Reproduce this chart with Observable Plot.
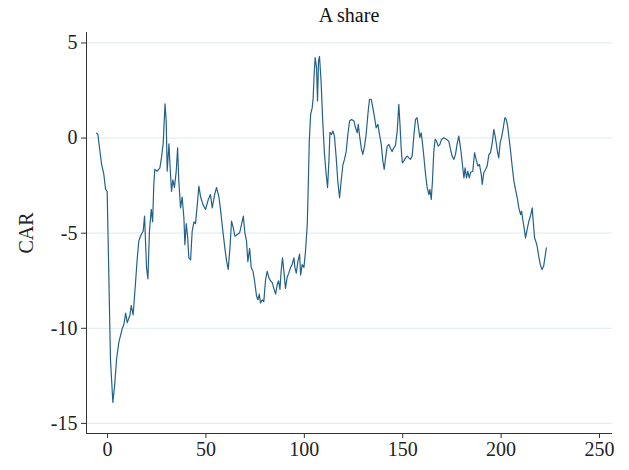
<!DOCTYPE html>
<html><head><meta charset="utf-8">
<script src="https://cdn.jsdelivr.net/npm/d3@7"></script>
<script src="https://cdn.jsdelivr.net/npm/@observablehq/plot@0.6"></script>
<style>
body{margin:0;background:#fff;font-family:"Liberation Serif",serif;}
#title{height:30px;width:629px;box-sizing:border-box;padding-left:69px;text-align:center;font-size:20px;line-height:30px;color:#111;}
</style></head><body>
<div id="title">A share</div>
<div id="chart"></div>
<script>
const day = [-5.6,-4.9,-3.9,-3.0,-1.9,-1.0,-0.2,0.7,1.5,2.7,3.6,4.6,5.8,7.5,8.3,9.2,10.0,11.4,12.0,13.0,13.9,15.1,15.9,17.1,18.1,18.8,19.8,20.5,21.3,22.2,22.9,23.5,24.0,25.2,26.6,27.4,28.3,29.2,29.8,30.3,31.2,31.8,32.5,33.2,34.0,34.9,35.6,36.2,37.1,37.9,38.8,39.3,40.0,40.7,41.3,42.2,43.0,43.9,44.7,45.6,46.4,47.3,48.5,49.8,51.2,52.3,53.2,54.4,55.4,56.6,57.4,58.6,59.6,60.5,61.3,62.2,63.0,63.9,64.7,65.9,67.1,68.1,69.0,69.8,70.6,71.3,72.2,73.0,73.9,74.7,75.7,76.4,77.1,77.7,78.6,79.4,80.3,81.1,82.0,82.8,83.7,84.5,85.4,86.2,86.9,87.6,88.2,88.9,89.6,90.4,91.3,92.1,93.0,93.8,94.7,95.2,95.9,96.7,97.6,98.1,98.9,99.8,100.6,101.5,102.0,102.5,103.2,104.0,104.5,104.9,105.5,106.2,106.7,107.2,107.7,108.5,109.3,110.2,111.0,111.8,112.5,113.0,113.8,114.5,115.3,116.2,117.0,117.9,118.7,119.6,120.4,121.3,122.1,123.0,124.0,125.2,126.0,126.9,127.4,128.0,128.9,129.7,130.6,131.4,132.3,133.1,134.0,134.8,135.7,136.5,137.4,138.2,139.1,139.9,140.6,141.3,142.1,143.0,143.8,144.6,145.5,146.3,147.2,148.0,148.6,149.2,149.8,150.5,151.4,152.3,153.1,153.9,154.8,155.7,156.5,157.3,158.0,158.7,159.4,160.1,160.8,161.6,162.4,163.3,163.8,164.5,165.1,165.8,166.5,167.2,168.0,168.9,169.7,170.9,172.3,173.4,174.3,175.1,176.0,176.8,177.6,178.5,179.0,179.7,180.4,181.1,181.7,182.4,183.1,183.8,184.5,185.6,186.5,187.3,188.2,189.0,189.9,190.4,191.2,192.1,192.9,193.8,194.6,195.5,196.3,196.8,197.5,198.2,198.8,199.5,200.2,201.1,201.9,202.6,203.3,204.0,204.8,205.6,206.5,207.3,208.2,209.0,209.9,210.4,211.0,211.7,212.4,213.2,214.1,215.1,215.8,216.3,217.0,217.6,218.3,219.1,219.9,220.8,221.6,222.5,223.0];
const car = [0.26,0.19,-0.68,-1.4,-1.9,-2.7,-2.8,-7.5,-11.7,-13.9,-13.0,-11.6,-10.7,-10.0,-9.8,-9.2,-9.7,-9.3,-8.8,-9.3,-8.05,-6.3,-5.4,-5.07,-4.9,-4.1,-6.8,-7.4,-4.9,-3.75,-4.4,-2.44,-1.65,-1.74,-1.56,-1.03,-0.25,1.8,0.9,-1.74,-0.3,-1.56,-2.8,-2.2,-2.6,-1.74,-0.51,-2.26,-3.67,-3.1,-4.2,-5.6,-4.5,-5.2,-6.3,-6.4,-4.9,-4.4,-4.5,-3.5,-2.53,-3.1,-3.5,-3.75,-3.23,-2.97,-3.67,-2.97,-2.6,-3.1,-3.75,-4.9,-5.77,-6.47,-6.9,-5.77,-4.37,-4.72,-5.16,-5.07,-4.98,-4.54,-4.1,-5.0,-5.4,-6.5,-5.8,-6.8,-7.0,-7.5,-8.3,-8.5,-8.2,-8.67,-8.5,-8.6,-7.44,-7.0,-7.35,-7.5,-7.6,-7.9,-8.2,-7.7,-7.5,-7.96,-7.0,-6.3,-7.0,-7.9,-7.3,-7.1,-6.8,-6.65,-6.3,-6.8,-7.1,-6.5,-6.1,-7.2,-6.65,-6.8,-5.95,-4.5,-2.45,-0.2,1.25,1.6,2.12,3.17,4.23,3.7,1.95,4.05,4.3,3.0,1.0,-0.8,-1.8,-2.6,-1.2,0.3,0.19,0.37,0.1,-1.04,-2.26,-3.14,-2.26,-1.4,-1.12,-0.68,0.19,0.9,0.98,0.9,0.54,0.28,0.72,0.19,-0.51,-0.86,-0.42,0.19,1.25,2.04,2.04,1.6,1.07,0.54,0.72,0.19,-0.33,-1.21,-1.65,-1.04,-0.42,-0.33,-0.55,-0.7,-0.5,-0.4,0.37,1.77,0.72,-0.51,-1.3,-1.21,-1.04,-0.95,-1.04,-1.12,-0.95,0.19,0.98,1.07,0.54,0.02,0.28,-0.33,-1.04,-1.9,-2.6,-2.97,-2.7,-3.23,-2.26,-0.68,-0.07,-0.16,-0.42,-0.33,-0.07,0.02,-0.07,-0.16,-0.6,-0.95,-1.12,-0.86,-0.33,0.11,-0.25,-0.77,-1.47,-2.09,-1.56,-2.09,-1.74,-2.09,-1.8,-1.74,-0.77,-1.12,-1.47,-1.39,-1.91,-2.44,-1.82,-1.65,-1.47,-0.86,-0.77,-0.25,0.46,0.19,-0.25,-0.77,-1.04,-0.25,0.02,0.54,1.07,0.98,0.63,0.02,-0.68,-1.47,-2.26,-2.7,-3.14,-3.67,-4.02,-3.84,-4.28,-4.72,-5.25,-4.81,-4.37,-4.02,-3.67,-4.37,-5.25,-5.42,-5.68,-6.21,-6.65,-6.91,-6.74,-6.12,-5.77];
const xTicks = [0, 50, 100, 150, 200, 250];
const yTicks = [-15, -10, -5, 0, 5];
const xDomain = [-10.7, 256.6];
const yDomain = [-15.53, 5.55];
const data = day.map((d, i) => ({day: d, car: car[i]}));

const chart = Plot.plot({
  width: 629, height: 440,
  marginLeft: 86, marginRight: 17, marginTop: 2, marginBottom: 37,
  style: {fontFamily: "'Liberation Serif', serif", fontSize: "20px", background: "#fff", color: "#222"},
  x: {domain: xDomain},
  y: {domain: yDomain},
  marks: [
    Plot.gridY(yTicks, {stroke: "#e4eff1", strokeOpacity: 1, strokeWidth: 1.2}),
    Plot.line(data, {x: "day", y: "car", stroke: "#23618b", strokeWidth: 1.2}),
    Plot.axisX(xTicks, {tickSize: 5, tickPadding: 3, tickFormat: d => String(d), label: null, stroke: "#333"}),
    Plot.axisY(yTicks, {tickSize: 5, tickPadding: 4, tickFormat: d => String(d), label: "CAR", labelAnchor: "center", labelArrow: false, labelOffset: 68, stroke: "#333"}),
    Plot.ruleX([xDomain[0]], {stroke: "#333"}),
    Plot.ruleY([yDomain[0]], {stroke: "#333"})
  ]
});
document.getElementById("chart").appendChild(chart);
</script>
</body></html>
